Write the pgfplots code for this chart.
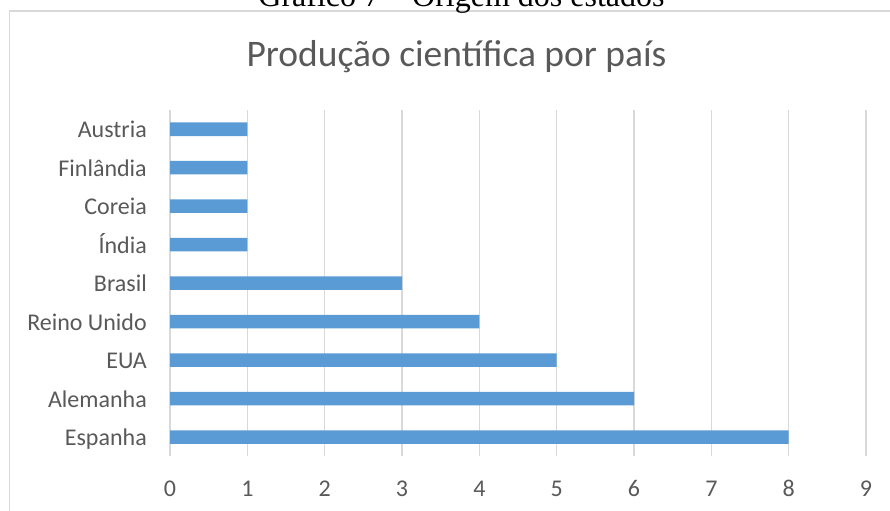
\documentclass[border=0pt]{standalone}
\usepackage{fontspec}
\setmainfont{Carlito}
\newfontfamily\capfont{Liberation Serif}
\usepackage{pgfplots}
\pgfplotsset{compat=1.18}
\definecolor{barblue}{HTML}{5B9BD5}
\definecolor{gridgray}{HTML}{D9D9D9}
\definecolor{txtgray}{HTML}{595959}
\begin{document}
\begin{tikzpicture}[x=1bp,y=1bp]
\useasboundingbox (0,0) rectangle (890,511);
\draw[gridgray, line width=1.2bp] (9.5,-10) -- (9.5,500) -- (900,500);
\node[anchor=base, inner sep=0pt] at (461.5,504) {\capfont\fontsize{32bp}{36bp}\selectfont Gráfico 7 – Origem dos estados};
\node[anchor=base, inner sep=0pt, text=txtgray] at (456.5,444) {\fontsize{37.5bp}{42bp}\selectfont Produção científica por país};
\begin{axis}[
  at={(170bp,54.5bp)}, anchor=south west,
  scale only axis, width=696bp, height=346.5bp,
  xmin=0, xmax=9, ymin=-0.5, ymax=8.5,
  xbar, bar width=13.5bp,
  axis line style={draw=none},
  major tick length=0pt,
  xtick={0,1,2,3,4,5,6,7,8,9},
  ytick={0,1,2,3,4,5,6,7,8},
  yticklabels={Espanha,Alemanha,EUA,Reino Unido,Brasil,Índia,Coreia,Finlândia,Austria},
  xmajorgrids, major grid style={gridgray, line width=1.3bp},
  tick label style={text=txtgray, font=\fontsize{24bp}{28bp}\selectfont},
  xticklabel style={anchor=base, inner sep=0pt, yshift=-40bp},
  yticklabel style={anchor=base east, inner sep=0pt, xshift=-23bp, yshift=-8.5bp},
  /pgf/number format/assume math mode=true,
]
\addplot[fill=barblue, draw=none] coordinates {(8,0) (6,1) (5,2) (4,3) (3,4) (1,5) (1,6) (1,7) (1,8)};
\end{axis}
\end{tikzpicture}
\end{document}
